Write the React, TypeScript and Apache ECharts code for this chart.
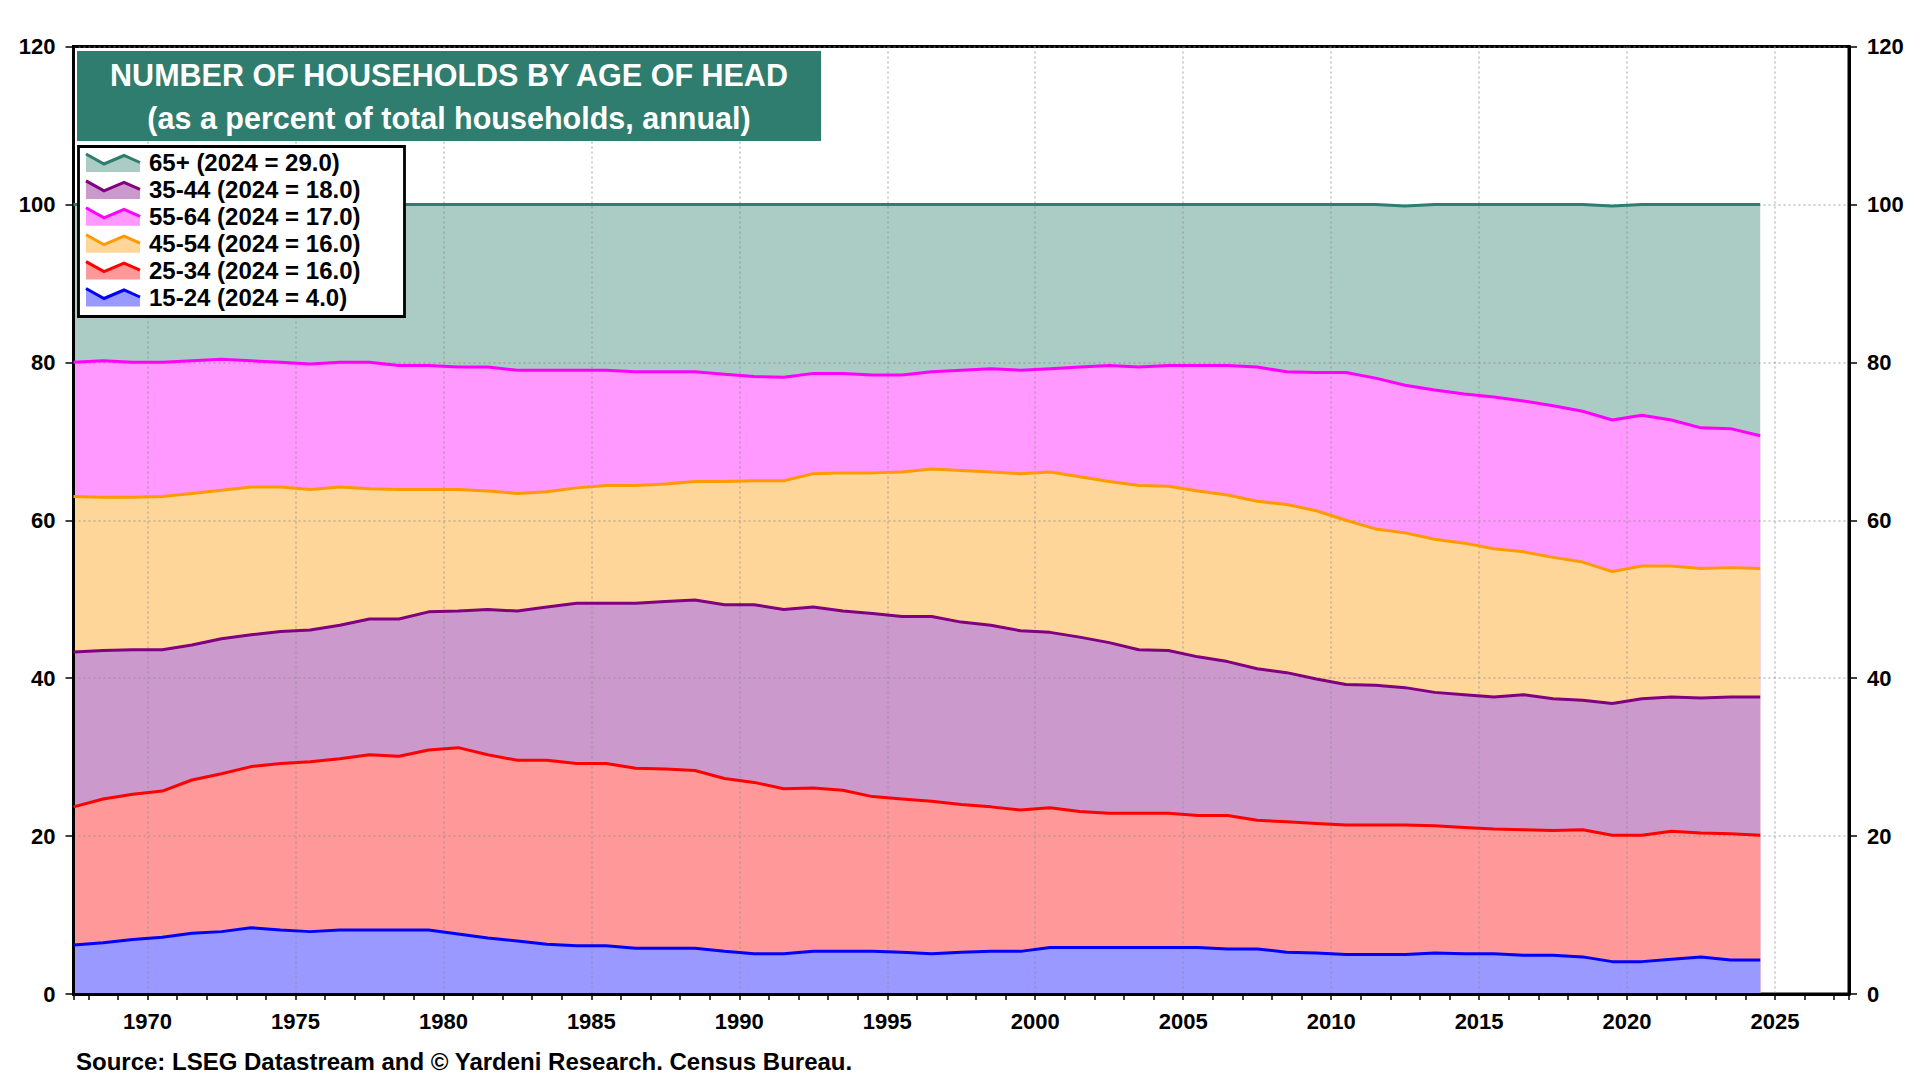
import React, { useEffect, useRef } from "react";
import * as echarts from "echarts";

const years = [
  1967, 1968, 1969, 1970, 1971, 1972, 1973, 1974, 1975, 1976,
  1977, 1978, 1979, 1980, 1981, 1982, 1983, 1984, 1985, 1986,
  1987, 1988, 1989, 1990, 1991, 1992, 1993, 1994, 1995, 1996,
  1997, 1998, 1999, 2000, 2001, 2002, 2003, 2004, 2005, 2006,
  2007, 2008, 2009, 2010, 2011, 2012, 2013, 2014, 2015, 2016,
  2017, 2018, 2019, 2020, 2021, 2022, 2023, 2024,
];

const age15to24 = [
  6.2, 6.5, 6.9, 7.2, 7.7, 7.9, 8.4, 8.1, 7.9, 8.1,
  8.1, 8.1, 8.1, 7.6, 7.1, 6.7, 6.3, 6.1, 6.1, 5.8,
  5.8, 5.8, 5.4, 5.1, 5.1, 5.4, 5.4, 5.4, 5.3, 5.1,
  5.3, 5.4, 5.4, 5.9, 5.9, 5.9, 5.9, 5.9, 5.9, 5.7,
  5.7, 5.3, 5.2, 5.0, 5.0, 5.0, 5.2, 5.1, 5.1, 4.9,
  4.9, 4.7, 4.1, 4.1, 4.4, 4.7, 4.3, 4.3,
];

const age25to34 = [
  17.5, 18.2, 18.4, 18.5, 19.4, 20.0, 20.4, 21.1, 21.5, 21.7,
  22.2, 22.0, 22.8, 23.6, 23.2, 22.9, 23.3, 23.1, 23.1, 22.8,
  22.7, 22.5, 21.9, 21.7, 20.9, 20.7, 20.4, 19.6, 19.4, 19.3,
  18.7, 18.3, 17.9, 17.7, 17.2, 17.0, 17.0, 17.0, 16.7, 16.9,
  16.3, 16.5, 16.4, 16.4, 16.4, 16.4, 16.1, 16.0, 15.8, 15.9,
  15.8, 16.1, 16.0, 16.0, 16.2, 15.7, 16.0, 15.8,
];

const age35to44 = [
  19.6, 18.8, 18.3, 17.9, 17.1, 17.1, 16.7, 16.7, 16.7, 16.9,
  17.2, 17.4, 17.5, 17.3, 18.4, 18.9, 19.4, 20.3, 20.3, 20.9,
  21.2, 21.6, 22.0, 22.5, 22.7, 22.9, 22.7, 23.2, 23.1, 23.4,
  23.1, 23.0, 22.7, 22.2, 22.1, 21.6, 20.7, 20.6, 20.1, 19.5,
  19.2, 18.9, 18.3, 17.8, 17.7, 17.4, 16.9, 16.8, 16.7, 17.1,
  16.7, 16.4, 16.7, 17.3, 17.0, 17.1, 17.3, 17.5,
];

const age45to54 = [
  19.7, 19.4, 19.3, 19.4, 19.2, 18.8, 18.7, 18.3, 17.8, 17.5,
  16.5, 16.4, 15.5, 15.4, 15.0, 14.9, 14.6, 14.6, 14.9, 14.9,
  14.9, 15.0, 15.6, 15.7, 16.3, 16.9, 17.5, 17.8, 18.3, 18.7,
  19.2, 19.4, 19.9, 20.3, 20.3, 20.4, 20.8, 20.8, 21.0, 21.1,
  21.2, 21.3, 21.3, 20.8, 19.8, 19.6, 19.4, 19.2, 18.8, 18.1,
  17.9, 17.5, 16.7, 16.8, 16.6, 16.4, 16.4, 16.3,
];

const age55to64 = [
  17.0, 17.3, 17.1, 17.0, 16.8, 16.6, 16.0, 15.8, 15.9, 15.8,
  16.0, 15.7, 15.7, 15.5, 15.7, 15.6, 15.4, 14.9, 14.6, 14.4,
  14.2, 13.9, 13.6, 13.2, 13.1, 12.7, 12.6, 12.4, 12.3, 12.3,
  12.7, 13.1, 13.1, 13.1, 13.9, 14.7, 15.0, 15.3, 15.9, 16.4,
  17.0, 16.8, 17.5, 18.7, 19.1, 18.7, 18.9, 18.9, 19.2, 19.1,
  19.2, 19.1, 19.2, 19.1, 18.5, 17.8, 17.6, 16.8,
];

const age65plus = [
  20.0, 19.8, 20.0, 20.0, 19.8, 19.6, 19.8, 20.0, 20.2, 20.0,
  20.0, 20.4, 20.4, 20.6, 20.6, 21.0, 21.0, 21.0, 21.0, 21.2,
  21.2, 21.2, 21.5, 21.8, 21.9, 21.4, 21.4, 21.6, 21.6, 21.2,
  21.0, 20.8, 21.0, 20.8, 20.6, 20.4, 20.6, 20.4, 20.4, 20.4,
  20.6, 21.2, 21.3, 21.3, 22.0, 22.7, 23.5, 24.0, 24.4, 24.9,
  25.5, 26.2, 27.1, 26.7, 27.3, 28.3, 28.4, 29.3,
];

const yTicks = [0, 20, 40, 60, 80, 100, 120];

const titleLines = [
  "NUMBER OF HOUSEHOLDS BY AGE OF HEAD",
  "(as a percent of total households, annual)",
];
const sourceText = "Source: LSEG Datastream and \u00A9 Yardeni Research. Census Bureau.";

// stacking order, bottom to top
const stackOrder = [
  { key: "15-24", data: age15to24, line: "#0000FF", fill: "#9999FF" },
  { key: "25-34", data: age25to34, line: "#FF0000", fill: "#FF9999" },
  { key: "35-44", data: age35to44, line: "#800080", fill: "#CC99CC" },
  { key: "45-54", data: age45to54, line: "#FF9900", fill: "#FFD699" },
  { key: "55-64", data: age55to64, line: "#FF00FF", fill: "#FF99FF" },
  { key: "65+", data: age65plus, line: "#2E7D6E", fill: "#ABCBC5" },
];

const legendKeys = ["65+", "35-44", "55-64", "45-54", "25-34", "15-24"];
const legendLabels = [
  "65+ (2024 = 29.0)",
  "35-44 (2024 = 18.0)",
  "55-64 (2024 = 17.0)",
  "45-54 (2024 = 16.0)",
  "25-34 (2024 = 16.0)",
  "15-24 (2024 = 4.0)",
];

const FONT = "'Liberation Sans', Arial, Helvetica, sans-serif";

export default function App() {
  const ref = useRef<HTMLDivElement>(null);

  useEffect(() => {
    document.body.style.margin = "0";
    if (!ref.current) return;
    const chart = echarts.init(ref.current, null, { renderer: "svg" });

    // cumulative totals (stack computed here; each area fills down to 0,
    // drawn from the top layer down so lower layers paint over)
    const running = years.map(() => 0);
    const cumulative = stackOrder.map((s) => {
      const pts = years.map((y, i) => {
        running[i] = running[i] + s.data[i];
        return [y + 0.5, Math.round(running[i] * 100) / 100];
      });
      return { ...s, pts };
    });

    const areaSeries = cumulative
      .slice()
      .reverse()
      .map((s) => ({
        name: s.key + " area",
        type: "line",
        data: s.pts,
        symbol: "none",
        showSymbol: false,
        lineStyle: { width: 0, color: s.fill },
        areaStyle: { color: s.fill, opacity: 1, origin: 0 },
        z: 2,
        silent: true,
      }));
    const lineSeries = cumulative.map((s) => ({
      name: s.key,
      type: "line",
      data: s.pts,
      symbol: "none",
      showSymbol: false,
      lineStyle: { width: 3, color: s.line },
      z: 6,
      silent: true,
    }));

    const gridLine = {
      show: true,
      lineStyle: { color: "rgba(140,140,140,0.55)", width: 1.5, type: [2, 3] },
    };

    const yAxisBase = {
      type: "value",
      min: yTicks[0],
      max: yTicks[yTicks.length - 1],
      interval: yTicks[1] - yTicks[0],
      z: 4,
      axisLine: { show: true, lineStyle: { color: "#000", width: 3 } },
      axisTick: { show: true, length: 8, lineStyle: { color: "#000", width: 1.5 } },
      axisLabel: {
        color: "#000",
        fontSize: 22,
        fontWeight: "bold",
        fontFamily: FONT,
        margin: 18,
      },
    };

    const graphics: any[] = [];
    graphics.push({
      type: "rect",
      z: 100,
      shape: { x: 77, y: 51, width: 744, height: 90 },
      style: { fill: "#2E7D6E" },
    });
    titleLines.forEach((t, i) => {
      graphics.push({
        type: "text",
        z: 101,
        x: 449,
        y: 75 + i * 43,
        style: {
          text: t,
          fill: "#fff",
          font: `bold 30.5px ${FONT}`,
          textAlign: "center",
          textVerticalAlign: "middle",
        },
      });
    });
    graphics.push({
      type: "rect",
      z: 100,
      shape: { x: 78.5, y: 146.5, width: 326, height: 170 },
      style: { fill: "#fff", stroke: "#000", lineWidth: 2.8 },
    });
    legendKeys.forEach((k, i) => {
      const s = stackOrder.find((d) => d.key === k)!;
      const cy = 162.5 + i * 26.9;
      const pts = [
        [86, cy - 8.5],
        [104, cy + 1.5],
        [124, cy - 7],
        [140, cy],
      ];
      graphics.push({
        type: "polygon",
        z: 101,
        shape: { points: [...pts, [140, cy + 9.5], [86, cy + 9.5]] },
        style: { fill: s.fill },
      });
      graphics.push({
        type: "polyline",
        z: 102,
        shape: { points: pts },
        style: { stroke: s.line, lineWidth: 3, fill: null },
      });
      graphics.push({
        type: "text",
        z: 102,
        x: 149,
        y: cy,
        style: {
          text: legendLabels[i],
          fill: "#000",
          font: `bold 24px ${FONT}`,
          textAlign: "left",
          textVerticalAlign: "middle",
        },
      });
    });
    graphics.push({
      type: "text",
      z: 100,
      x: 76,
      y: 1061,
      style: {
        text: sourceText,
        fill: "#000",
        font: `bold 24px ${FONT}`,
        textAlign: "left",
        textVerticalAlign: "middle",
      },
    });

    chart.setOption({
      animation: false,
      backgroundColor: "#fff",
      grid: {
        left: 73.5,
        right: 71,
        top: 46.5,
        bottom: 86,
        show: true,
        borderColor: "#000",
        borderWidth: 3,
        backgroundColor: "transparent",
        containLabel: false,
      },
      xAxis: {
        type: "value",
        min: 1967.5,
        max: 2027.5,
        splitNumber: 12,
        z: 4,
        axisLine: { show: true, onZero: false, lineStyle: { color: "#000", width: 3 } },
        axisTick: { show: true, length: 6, lineStyle: { color: "#000", width: 1.5 } },
        minorTick: { show: true, splitNumber: 5, length: 6, lineStyle: { color: "#000", width: 1.5 } },
        axisLabel: {
          color: "#000",
          fontSize: 22,
          fontWeight: "bold",
          fontFamily: FONT,
          margin: 16,
          formatter: (v: number) => (Math.abs(v % 5) < 1e-6 ? String(v) : ""),
        },
        splitLine: gridLine,
      },
      yAxis: [
        { ...yAxisBase, position: "left", splitLine: gridLine },
        { ...yAxisBase, position: "right", splitLine: { show: false } },
      ],
      series: [...areaSeries, ...lineSeries],
      graphic: graphics,
    });

    return () => chart.dispose();
  }, []);

  return <div ref={ref} style={{ width: "1920px", height: "1080px" }} />;
}
